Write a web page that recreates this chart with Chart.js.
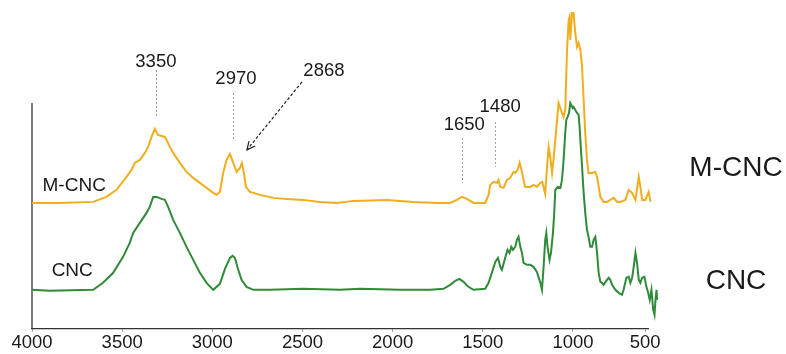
<!DOCTYPE html>
<html>
<head>
<meta charset="utf-8">
<script src="https://cdn.jsdelivr.net/npm/chart.js@4/dist/chart.umd.min.js"></script>
<style>
  body { margin: 0; background: #fff; }
  #wrap { width: 786px; height: 354px; }
</style>
</head>
<body>
<div id="wrap"><canvas id="ftir"></canvas></div>
<script>
// wavenumbers (cm-1) and absorbance
var mcncWave = [4000,3846,3661,3587,3531,3476,3448,3430,3402,3374,3356,3337,3319,3301,3282,3263,3254,3236,3217,3180,3143,3106,3069,3032,2995,2976,2958,2940,2921,2902,2884,2865,2847,2836,2825,2814,2791,2736,2662,2588,2496,2403,2310,2218,2033,1885,1755,1681,1644,1616,1588,1552,1487,1468,1459,1441,1422,1413,1403,1385,1366,1348,1330,1320,1307,1296,1283,1274,1265,1237,1219,1200,1181,1170,1154,1144,1135,1126,1116,1108,1098,1080,1061,1052,1043,1033,1024,1019,1015,1005,996,984,972,961,949,937,926,915,903,892,868,845,833,810,788,764,741,718,694,671,637,614,590,567,544,533,521,498,475,463];
var mcncAbs = [1.26,1.26,1.27,1.32,1.39,1.52,1.59,1.66,1.69,1.76,1.82,1.92,2.00,1.94,1.93,1.92,1.89,1.82,1.76,1.66,1.57,1.51,1.46,1.41,1.36,1.34,1.37,1.56,1.69,1.75,1.66,1.57,1.61,1.66,1.56,1.42,1.37,1.34,1.31,1.30,1.29,1.27,1.26,1.28,1.29,1.27,1.26,1.26,1.29,1.32,1.30,1.26,1.26,1.34,1.44,1.47,1.46,1.49,1.42,1.41,1.49,1.51,1.57,1.56,1.59,1.66,1.57,1.49,1.42,1.42,1.44,1.42,1.46,1.47,1.35,1.62,1.82,1.72,1.56,1.69,1.89,2.26,2.16,2.12,2.19,2.79,3.09,3.12,2.89,3.16,3.16,2.96,2.82,2.86,2.79,2.62,2.29,1.96,1.69,1.56,1.56,1.57,1.52,1.32,1.27,1.27,1.29,1.31,1.27,1.27,1.29,1.39,1.36,1.29,1.52,1.42,1.29,1.29,1.37,1.27];

var cncWave = [4000,3902,3661,3606,3550,3495,3458,3439,3402,3365,3347,3328,3309,3282,3263,3245,3217,3180,3143,3106,3069,3032,2995,2958,2930,2902,2888,2875,2856,2838,2810,2773,2680,2496,2292,2181,1959,1792,1718,1681,1653,1630,1607,1580,1552,1487,1468,1450,1431,1416,1403,1394,1376,1363,1352,1342,1333,1320,1311,1302,1292,1283,1274,1255,1237,1219,1200,1181,1172,1163,1154,1148,1141,1130,1122,1111,1104,1098,1085,1070,1061,1052,1043,1037,1030,1022,1015,1009,1002,996,984,972,961,954,949,937,926,915,903,892,880,868,857,845,833,822,810,799,788,764,753,741,729,706,683,660,649,630,614,602,590,579,567,556,544,533,521,505,491,479,468,456,444,435,428,421,417];
var cncAbs = [0.39,0.38,0.39,0.46,0.56,0.72,0.86,0.96,1.06,1.16,1.22,1.32,1.32,1.30,1.29,1.22,1.09,0.96,0.82,0.69,0.56,0.46,0.39,0.45,0.60,0.71,0.73,0.71,0.59,0.49,0.42,0.39,0.39,0.40,0.39,0.40,0.39,0.39,0.40,0.44,0.48,0.50,0.47,0.42,0.39,0.40,0.46,0.56,0.67,0.71,0.62,0.59,0.71,0.79,0.76,0.82,0.79,0.82,0.89,0.92,0.82,0.76,0.66,0.64,0.64,0.62,0.57,0.46,0.39,0.62,0.89,0.96,0.82,0.69,0.76,0.96,1.16,1.39,1.42,1.41,1.49,1.69,1.96,2.09,2.12,2.16,2.26,2.24,2.21,2.22,2.19,2.16,2.14,2.02,1.89,1.62,1.36,1.16,0.99,0.92,0.82,0.82,0.89,0.92,0.76,0.56,0.47,0.46,0.44,0.49,0.51,0.49,0.44,0.39,0.36,0.34,0.39,0.51,0.52,0.46,0.51,0.62,0.76,0.66,0.49,0.46,0.51,0.52,0.42,0.36,0.29,0.39,0.19,0.14,0.29,0.39,0.29];

var xTicks = [4000, 3500, 3000, 2500, 2000, 1500, 1000, 500];
var seriesNames = ['M-CNC', 'CNC'];

// peak marks: label, text position, dashed guide
var peaks = [
  { text: '3350', tx: 3313, ty: 2.67, lx: 3315, y0: 2.59, y1: 2.12 },
  { text: '2970', tx: 2869, ty: 2.50, lx: 2887, y0: 2.36, y1: 1.89 },
  { text: '1650', tx: 1603, ty: 2.04, lx: 1616, y0: 1.91, y1: 1.46 },
  { text: '1480', tx: 1404, ty: 2.225, lx: 1431, y0: 2.07, y1: 1.62 }
];
var arrowMark = { text: '2868', tx: 2381, ty: 2.58, x0: 2503, y0: 2.47, x1: 2808, y1: 1.79 };

// spectrometer axis: below 1000 cm-1 the scale is compressed
function warp(v) { return v >= 1000 ? v : 1000 - (1000 - v) * 0.8; }
function unwarp(w) { return w >= 1000 ? w : 1000 - (1000 - w) / 0.8; }
class WarpScale extends Chart.LinearScale {
  getPixelForValue(v) { return super.getPixelForValue(warp(v)); }
  getValueForPixel(p) { return unwarp(super.getValueForPixel(p)); }
}
WarpScale.id = 'warp';
WarpScale.defaults = Chart.LinearScale.defaults;
Chart.register(WarpScale);

function toPoints(xs, ys) {
  return xs.map(function (x, i) { return { x: x, y: ys[i] }; });
}

var FONT = "'Liberation Sans', Arial, sans-serif";

var marks = {
  id: 'marks',
  beforeDatasetsDraw: function (chart) {
    var c = chart.ctx, y = chart.scales.y;
    c.save();
    c.strokeStyle = '#333';
    c.lineWidth = 1.3;
    c.beginPath();
    c.moveTo(chart.chartArea.left, y.getPixelForValue(2.26));
    c.lineTo(chart.chartArea.left, y.getPixelForValue(0));
    c.stroke();
    c.restore();
  },
  afterDatasetsDraw: function (chart) {
    var c = chart.ctx, x = chart.scales.x, y = chart.scales.y, a = chart.chartArea;
    c.save();
    c.fillStyle = '#1a1a1a';
    c.textAlign = 'center';
    c.textBaseline = 'middle';
    c.font = '18.5px ' + FONT;
    peaks.forEach(function (p) {
      c.fillText(p.text, x.getPixelForValue(p.tx), y.getPixelForValue(p.ty));
      c.save();
      c.strokeStyle = '#9aa3ad';
      c.lineWidth = 1;
      c.setLineDash([2, 2]);
      var lx = Math.round(x.getPixelForValue(p.lx)) + 0.5;
      c.beginPath();
      c.moveTo(lx, y.getPixelForValue(p.y0));
      c.lineTo(lx, y.getPixelForValue(p.y1));
      c.stroke();
      c.restore();
    });
    // dashed arrow for 2868
    var m = arrowMark;
    c.fillText(m.text, x.getPixelForValue(m.tx), y.getPixelForValue(m.ty));
    var ax0 = x.getPixelForValue(m.x0), ay0 = y.getPixelForValue(m.y0);
    var ax1 = x.getPixelForValue(m.x1), ay1 = y.getPixelForValue(m.y1);
    c.strokeStyle = '#222';
    c.lineWidth = 1.2;
    c.setLineDash([3, 2]);
    c.beginPath();
    c.moveTo(ax0, ay0);
    c.lineTo(ax1, ay1);
    c.stroke();
    c.setLineDash([]);
    var ang = Math.atan2(ay1 - ay0, ax1 - ax0), h = 9;
    c.beginPath();
    c.moveTo(ax1 - h * Math.cos(ang - 0.45), ay1 - h * Math.sin(ang - 0.45));
    c.lineTo(ax1, ay1);
    c.lineTo(ax1 - h * Math.cos(ang + 0.45), ay1 - h * Math.sin(ang + 0.45));
    c.stroke();

    // series names inside the plot
    c.font = '19px ' + FONT;
    c.fillText(seriesNames[0], x.getPixelForValue(3766), y.getPixelForValue(1.435));
    c.fillText(seriesNames[1], x.getPixelForValue(3777), y.getPixelForValue(0.58));
    // and on the right side
    c.font = '28px ' + FONT;
    c.fillText(seriesNames[0], a.right + 88, y.getPixelForValue(1.61));
    c.fillText(seriesNames[1], a.right + 88, y.getPixelForValue(0.48));
    c.restore();
  }
};

new Chart(document.getElementById('ftir').getContext('2d'), {
  type: 'line',
  data: {
    datasets: [{
      label: seriesNames[0],
      data: toPoints(mcncWave, mcncAbs),
      borderColor: '#f0ae1e',
      borderWidth: 2,
      pointRadius: 0,
      tension: 0,
      clip: false
    }, {
      label: seriesNames[1],
      data: toPoints(cncWave, cncAbs),
      borderColor: '#2f8a3a',
      borderWidth: 2,
      pointRadius: 0,
      tension: 0,
      clip: false
    }]
  },
  options: {
    responsive: true,
    maintainAspectRatio: false,
    animation: false,
    layout: { padding: { left: 32, right: 138, top: 10, bottom: 0 } },
    plugins: { legend: { display: false }, tooltip: { enabled: false } },
    scales: {
      x: {
        type: 'warp',
        reverse: true,
        min: warp(480),
        max: 4000,
        afterBuildTicks: function (scale) {
          scale.ticks = xTicks.map(function (v) { return { value: v }; });
        },
        ticks: {
          autoSkip: false,
          maxRotation: 0,
          padding: 0,
          color: '#1a1a1a',
          font: { family: FONT, size: 18.5 },
          callback: function (v) { return String(v); }
        },
        grid: { drawOnChartArea: false, tickLength: 3, color: '#999' },
        border: { color: '#333', width: 1.3 }
      },
      y: {
        display: false,
        min: 0,
        max: 3.19
      }
    }
  },
  plugins: [marks]
});
</script>
</body>
</html>
